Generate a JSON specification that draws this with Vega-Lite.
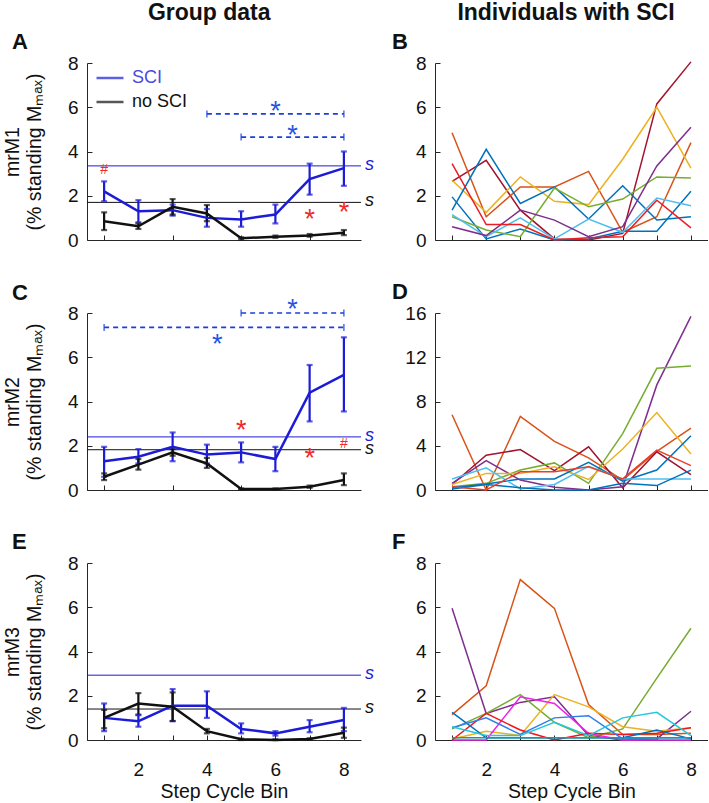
{
  "$schema": "https://vega.github.io/schema/vega-lite/v6.json",
  "padding": {"left": 2, "top": 2, "right": 0, "bottom": 0},
  "datasets": {
    "group": [
      {"panel":"A","series":"SCI","bin":1,"mean":2.2,"lo":1.75,"hi":2.65},
      {"panel":"A","series":"SCI","bin":2,"mean":1.3,"lo":0.8,"hi":1.8},
      {"panel":"A","series":"SCI","bin":3,"mean":1.35,"lo":1.1,"hi":1.6},
      {"panel":"A","series":"SCI","bin":4,"mean":1.0,"lo":0.6,"hi":1.4},
      {"panel":"A","series":"SCI","bin":5,"mean":0.93,"lo":0.6,"hi":1.3},
      {"panel":"A","series":"SCI","bin":6,"mean":1.15,"lo":0.75,"hi":1.6},
      {"panel":"A","series":"SCI","bin":7,"mean":2.75,"lo":2.05,"hi":3.45},
      {"panel":"A","series":"SCI","bin":8,"mean":3.25,"lo":2.45,"hi":4.0},
      {"panel":"A","series":"no SCI","bin":1,"mean":0.85,"lo":0.45,"hi":1.25},
      {"panel":"A","series":"no SCI","bin":2,"mean":0.62,"lo":0.5,"hi":0.75},
      {"panel":"A","series":"no SCI","bin":3,"mean":1.5,"lo":1.15,"hi":1.85},
      {"panel":"A","series":"no SCI","bin":4,"mean":1.2,"lo":0.85,"hi":1.58},
      {"panel":"A","series":"no SCI","bin":5,"mean":0.08,"lo":0.03,"hi":0.12},
      {"panel":"A","series":"no SCI","bin":6,"mean":0.15,"lo":0.1,"hi":0.2},
      {"panel":"A","series":"no SCI","bin":7,"mean":0.2,"lo":0.15,"hi":0.27},
      {"panel":"A","series":"no SCI","bin":8,"mean":0.33,"lo":0.22,"hi":0.45},
      {"panel":"C","series":"SCI","bin":1,"mean":1.3,"lo":0.6,"hi":1.95},
      {"panel":"C","series":"SCI","bin":2,"mean":1.5,"lo":1.2,"hi":1.85},
      {"panel":"C","series":"SCI","bin":3,"mean":1.95,"lo":1.3,"hi":2.6},
      {"panel":"C","series":"SCI","bin":4,"mean":1.6,"lo":1.2,"hi":2.05},
      {"panel":"C","series":"SCI","bin":5,"mean":1.7,"lo":1.25,"hi":2.15},
      {"panel":"C","series":"SCI","bin":6,"mean":1.4,"lo":0.85,"hi":1.95},
      {"panel":"C","series":"SCI","bin":7,"mean":4.4,"lo":3.1,"hi":5.65},
      {"panel":"C","series":"SCI","bin":8,"mean":5.2,"lo":3.55,"hi":6.9},
      {"panel":"C","series":"no SCI","bin":1,"mean":0.6,"lo":0.45,"hi":0.75},
      {"panel":"C","series":"no SCI","bin":2,"mean":1.15,"lo":0.92,"hi":1.4},
      {"panel":"C","series":"no SCI","bin":3,"mean":1.7,"lo":1.55,"hi":1.85},
      {"panel":"C","series":"no SCI","bin":4,"mean":1.2,"lo":1.0,"hi":1.45},
      {"panel":"C","series":"no SCI","bin":5,"mean":0.05,"lo":0.03,"hi":0.07},
      {"panel":"C","series":"no SCI","bin":6,"mean":0.05,"lo":0.03,"hi":0.07},
      {"panel":"C","series":"no SCI","bin":7,"mean":0.15,"lo":0.1,"hi":0.2},
      {"panel":"C","series":"no SCI","bin":8,"mean":0.45,"lo":0.22,"hi":0.75},
      {"panel":"E","series":"SCI","bin":1,"mean":1.0,"lo":0.4,"hi":1.65},
      {"panel":"E","series":"SCI","bin":2,"mean":0.85,"lo":0.6,"hi":1.12},
      {"panel":"E","series":"SCI","bin":3,"mean":1.55,"lo":0.85,"hi":2.3},
      {"panel":"E","series":"SCI","bin":4,"mean":1.55,"lo":1.0,"hi":2.2},
      {"panel":"E","series":"SCI","bin":5,"mean":0.5,"lo":0.3,"hi":0.75},
      {"panel":"E","series":"SCI","bin":6,"mean":0.3,"lo":0.2,"hi":0.4},
      {"panel":"E","series":"SCI","bin":7,"mean":0.6,"lo":0.35,"hi":0.9},
      {"panel":"E","series":"SCI","bin":8,"mean":0.9,"lo":0.4,"hi":1.45},
      {"panel":"E","series":"no SCI","bin":1,"mean":1.0,"lo":0.53,"hi":1.36},
      {"panel":"E","series":"no SCI","bin":2,"mean":1.65,"lo":1.15,"hi":2.12},
      {"panel":"E","series":"no SCI","bin":3,"mean":1.5,"lo":0.86,"hi":2.15},
      {"panel":"E","series":"no SCI","bin":4,"mean":0.4,"lo":0.3,"hi":0.5},
      {"panel":"E","series":"no SCI","bin":5,"mean":0.03,"lo":0.0,"hi":0.06},
      {"panel":"E","series":"no SCI","bin":6,"mean":0.0,"lo":0.0,"hi":0.03},
      {"panel":"E","series":"no SCI","bin":7,"mean":0.05,"lo":0.02,"hi":0.08},
      {"panel":"E","series":"no SCI","bin":8,"mean":0.33,"lo":0.1,"hi":0.56}
    ],
    "hlines": [
      {"panel":"A","series":"SCI","value":3.35},
      {"panel":"A","series":"no SCI","value":1.7},
      {"panel":"C","series":"SCI","value":2.4},
      {"panel":"C","series":"no SCI","value":1.82},
      {"panel":"E","series":"SCI","value":2.93},
      {"panel":"E","series":"no SCI","value":1.4}
    ],
    "brackets": [
      {"panel":"A","from":4,"to":8,"y":5.7},
      {"panel":"A","from":5,"to":8,"y":4.65},
      {"panel":"C","from":5,"to":8,"y":8.0},
      {"panel":"C","from":1,"to":8,"y":7.35}
    ],
    "notes": [
      {"panel":"A","kind":"within","label":"*","bin":6,"y":6.1},
      {"panel":"A","kind":"within","label":"*","bin":6.5,"y":5.0},
      {"panel":"A","kind":"between","label":"*","bin":7,"y":1.2},
      {"panel":"A","kind":"between","label":"*","bin":8,"y":1.55},
      {"panel":"A","kind":"between","label":"#","bin":1,"y":3.15},
      {"panel":"C","kind":"within","label":"*","bin":6.5,"y":8.45},
      {"panel":"C","kind":"within","label":"*","bin":4.3,"y":6.85},
      {"panel":"C","kind":"between","label":"*","bin":5,"y":3.0},
      {"panel":"C","kind":"between","label":"*","bin":7,"y":1.73},
      {"panel":"C","kind":"between","label":"#","bin":8,"y":2.1}
    ],
    "indiv": [
      {"panel":"B","subject":"b1","bin":1,"value":2.65},{"panel":"B","subject":"b1","bin":2,"value":3.6},{"panel":"B","subject":"b1","bin":3,"value":1.35},{"panel":"B","subject":"b1","bin":4,"value":0.05},{"panel":"B","subject":"b1","bin":5,"value":0.0},{"panel":"B","subject":"b1","bin":6,"value":0.3},{"panel":"B","subject":"b1","bin":7,"value":6.15},{"panel":"B","subject":"b1","bin":8,"value":8.05},
      {"panel":"B","subject":"b2","bin":1,"value":4.85},{"panel":"B","subject":"b2","bin":2,"value":1.05},{"panel":"B","subject":"b2","bin":3,"value":2.4},{"panel":"B","subject":"b2","bin":4,"value":2.4},{"panel":"B","subject":"b2","bin":5,"value":3.1},{"panel":"B","subject":"b2","bin":6,"value":0.35},{"panel":"B","subject":"b2","bin":7,"value":1.05},{"panel":"B","subject":"b2","bin":8,"value":4.4},
      {"panel":"B","subject":"b3","bin":1,"value":2.7},{"panel":"B","subject":"b3","bin":2,"value":1.25},{"panel":"B","subject":"b3","bin":3,"value":2.85},{"panel":"B","subject":"b3","bin":4,"value":1.75},{"panel":"B","subject":"b3","bin":5,"value":1.6},{"panel":"B","subject":"b3","bin":6,"value":3.65},{"panel":"B","subject":"b3","bin":7,"value":6.0},{"panel":"B","subject":"b3","bin":8,"value":3.25},
      {"panel":"B","subject":"b4","bin":1,"value":1.35},{"panel":"B","subject":"b4","bin":2,"value":4.1},{"panel":"B","subject":"b4","bin":3,"value":1.65},{"panel":"B","subject":"b4","bin":4,"value":2.4},{"panel":"B","subject":"b4","bin":5,"value":0.95},{"panel":"B","subject":"b4","bin":6,"value":2.45},{"panel":"B","subject":"b4","bin":7,"value":0.9},{"panel":"B","subject":"b4","bin":8,"value":1.05},
      {"panel":"B","subject":"b5","bin":1,"value":1.95},{"panel":"B","subject":"b5","bin":2,"value":0.05},{"panel":"B","subject":"b5","bin":3,"value":0.5},{"panel":"B","subject":"b5","bin":4,"value":0.0},{"panel":"B","subject":"b5","bin":5,"value":0.05},{"panel":"B","subject":"b5","bin":6,"value":0.4},{"panel":"B","subject":"b5","bin":7,"value":0.4},{"panel":"B","subject":"b5","bin":8,"value":2.2},
      {"panel":"B","subject":"b6","bin":1,"value":1.05},{"panel":"B","subject":"b6","bin":2,"value":0.45},{"panel":"B","subject":"b6","bin":3,"value":0.15},{"panel":"B","subject":"b6","bin":4,"value":2.35},{"panel":"B","subject":"b6","bin":5,"value":1.5},{"panel":"B","subject":"b6","bin":6,"value":1.85},{"panel":"B","subject":"b6","bin":7,"value":2.85},{"panel":"B","subject":"b6","bin":8,"value":2.8},
      {"panel":"B","subject":"b7","bin":1,"value":1.15},{"panel":"B","subject":"b7","bin":2,"value":0.15},{"panel":"B","subject":"b7","bin":3,"value":1.0},{"panel":"B","subject":"b7","bin":4,"value":0.05},{"panel":"B","subject":"b7","bin":5,"value":0.95},{"panel":"B","subject":"b7","bin":6,"value":0.35},{"panel":"B","subject":"b7","bin":7,"value":1.9},{"panel":"B","subject":"b7","bin":8,"value":1.55},
      {"panel":"B","subject":"b8","bin":1,"value":0.6},{"panel":"B","subject":"b8","bin":2,"value":0.2},{"panel":"B","subject":"b8","bin":3,"value":1.35},{"panel":"B","subject":"b8","bin":4,"value":0.9},{"panel":"B","subject":"b8","bin":5,"value":0.15},{"panel":"B","subject":"b8","bin":6,"value":0.6},{"panel":"B","subject":"b8","bin":7,"value":3.35},{"panel":"B","subject":"b8","bin":8,"value":5.1},
      {"panel":"B","subject":"b9","bin":1,"value":3.45},{"panel":"B","subject":"b9","bin":2,"value":0.7},{"panel":"B","subject":"b9","bin":3,"value":0.7},{"panel":"B","subject":"b9","bin":4,"value":0.0},{"panel":"B","subject":"b9","bin":5,"value":0.1},{"panel":"B","subject":"b9","bin":6,"value":0.15},{"panel":"B","subject":"b9","bin":7,"value":1.8},{"panel":"B","subject":"b9","bin":8,"value":0.55},
      {"panel":"D","subject":"d1","bin":1,"value":6.8},{"panel":"D","subject":"d1","bin":2,"value":0.0},{"panel":"D","subject":"d1","bin":3,"value":6.65},{"panel":"D","subject":"d1","bin":4,"value":4.4},{"panel":"D","subject":"d1","bin":5,"value":2.9},{"panel":"D","subject":"d1","bin":6,"value":0.9},{"panel":"D","subject":"d1","bin":7,"value":3.5},{"panel":"D","subject":"d1","bin":8,"value":5.6},
      {"panel":"D","subject":"d2","bin":1,"value":0.5},{"panel":"D","subject":"d2","bin":2,"value":3.15},{"panel":"D","subject":"d2","bin":3,"value":3.65},{"panel":"D","subject":"d2","bin":4,"value":1.75},{"panel":"D","subject":"d2","bin":5,"value":3.9},{"panel":"D","subject":"d2","bin":6,"value":0.2},{"panel":"D","subject":"d2","bin":7,"value":3.45},{"panel":"D","subject":"d2","bin":8,"value":1.4},
      {"panel":"D","subject":"d3","bin":1,"value":0.6},{"panel":"D","subject":"d3","bin":2,"value":2.65},{"panel":"D","subject":"d3","bin":3,"value":0.9},{"panel":"D","subject":"d3","bin":4,"value":0.25},{"panel":"D","subject":"d3","bin":5,"value":0.0},{"panel":"D","subject":"d3","bin":6,"value":0.3},{"panel":"D","subject":"d3","bin":7,"value":9.5},{"panel":"D","subject":"d3","bin":8,"value":15.7},
      {"panel":"D","subject":"d4","bin":1,"value":0.3},{"panel":"D","subject":"d4","bin":2,"value":0.6},{"panel":"D","subject":"d4","bin":3,"value":1.8},{"panel":"D","subject":"d4","bin":4,"value":2.45},{"panel":"D","subject":"d4","bin":5,"value":0.6},{"panel":"D","subject":"d4","bin":6,"value":5.1},{"panel":"D","subject":"d4","bin":7,"value":11.0},{"panel":"D","subject":"d4","bin":8,"value":11.2},
      {"panel":"D","subject":"d5","bin":1,"value":0.5},{"panel":"D","subject":"d5","bin":2,"value":1.5},{"panel":"D","subject":"d5","bin":3,"value":1.5},{"panel":"D","subject":"d5","bin":4,"value":2.1},{"panel":"D","subject":"d5","bin":5,"value":0.95},{"panel":"D","subject":"d5","bin":6,"value":3.7},{"panel":"D","subject":"d5","bin":7,"value":7.0},{"panel":"D","subject":"d5","bin":8,"value":3.25},
      {"panel":"D","subject":"d6","bin":1,"value":0.2},{"panel":"D","subject":"d6","bin":2,"value":0.55},{"panel":"D","subject":"d6","bin":3,"value":1.0},{"panel":"D","subject":"d6","bin":4,"value":1.0},{"panel":"D","subject":"d6","bin":5,"value":2.5},{"panel":"D","subject":"d6","bin":6,"value":0.8},{"panel":"D","subject":"d6","bin":7,"value":1.8},{"panel":"D","subject":"d6","bin":8,"value":4.9},
      {"panel":"D","subject":"d7","bin":1,"value":1.0},{"panel":"D","subject":"d7","bin":2,"value":2.0},{"panel":"D","subject":"d7","bin":3,"value":0.1},{"panel":"D","subject":"d7","bin":4,"value":0.5},{"panel":"D","subject":"d7","bin":5,"value":2.15},{"panel":"D","subject":"d7","bin":6,"value":1.0},{"panel":"D","subject":"d7","bin":7,"value":1.0},{"panel":"D","subject":"d7","bin":8,"value":1.0},
      {"panel":"D","subject":"d8","bin":1,"value":0.1},{"panel":"D","subject":"d8","bin":2,"value":0.5},{"panel":"D","subject":"d8","bin":3,"value":0.2},{"panel":"D","subject":"d8","bin":4,"value":0.0},{"panel":"D","subject":"d8","bin":5,"value":0.0},{"panel":"D","subject":"d8","bin":6,"value":0.6},{"panel":"D","subject":"d8","bin":7,"value":0.4},{"panel":"D","subject":"d8","bin":8,"value":1.8},
      {"panel":"D","subject":"d9","bin":1,"value":0.3},{"panel":"D","subject":"d9","bin":2,"value":0.0},{"panel":"D","subject":"d9","bin":3,"value":1.65},{"panel":"D","subject":"d9","bin":4,"value":1.65},{"panel":"D","subject":"d9","bin":5,"value":2.1},{"panel":"D","subject":"d9","bin":6,"value":1.0},{"panel":"D","subject":"d9","bin":7,"value":3.6},{"panel":"D","subject":"d9","bin":8,"value":2.2},
      {"panel":"F","subject":"f1","bin":1,"value":1.15},{"panel":"F","subject":"f1","bin":2,"value":2.45},{"panel":"F","subject":"f1","bin":3,"value":7.25},{"panel":"F","subject":"f1","bin":4,"value":5.95},{"panel":"F","subject":"f1","bin":5,"value":1.6},{"panel":"F","subject":"f1","bin":6,"value":0.25},{"panel":"F","subject":"f1","bin":7,"value":0.25},{"panel":"F","subject":"f1","bin":8,"value":0.3},
      {"panel":"F","subject":"f2","bin":1,"value":5.95},{"panel":"F","subject":"f2","bin":2,"value":1.2},{"panel":"F","subject":"f2","bin":3,"value":1.7},{"panel":"F","subject":"f2","bin":4,"value":1.95},{"panel":"F","subject":"f2","bin":5,"value":0.2},{"panel":"F","subject":"f2","bin":6,"value":0.0},{"panel":"F","subject":"f2","bin":7,"value":0.05},{"panel":"F","subject":"f2","bin":8,"value":1.3},
      {"panel":"F","subject":"f3","bin":1,"value":0.5},{"panel":"F","subject":"f3","bin":2,"value":1.2},{"panel":"F","subject":"f3","bin":3,"value":2.05},{"panel":"F","subject":"f3","bin":4,"value":0.8},{"panel":"F","subject":"f3","bin":5,"value":0.1},{"panel":"F","subject":"f3","bin":6,"value":0.5},{"panel":"F","subject":"f3","bin":7,"value":2.8},{"panel":"F","subject":"f3","bin":8,"value":5.05},
      {"panel":"F","subject":"f4","bin":1,"value":0.05},{"panel":"F","subject":"f4","bin":2,"value":0.4},{"panel":"F","subject":"f4","bin":3,"value":0.2},{"panel":"F","subject":"f4","bin":4,"value":2.05},{"panel":"F","subject":"f4","bin":5,"value":1.5},{"panel":"F","subject":"f4","bin":6,"value":0.6},{"panel":"F","subject":"f4","bin":7,"value":0.4},{"panel":"F","subject":"f4","bin":8,"value":0.55},
      {"panel":"F","subject":"f5","bin":1,"value":0.0},{"panel":"F","subject":"f5","bin":2,"value":0.0},{"panel":"F","subject":"f5","bin":3,"value":1.95},{"panel":"F","subject":"f5","bin":4,"value":1.65},{"panel":"F","subject":"f5","bin":5,"value":0.3},{"panel":"F","subject":"f5","bin":6,"value":0.0},{"panel":"F","subject":"f5","bin":7,"value":0.0},{"panel":"F","subject":"f5","bin":8,"value":0.0},
      {"panel":"F","subject":"f6","bin":1,"value":0.0},{"panel":"F","subject":"f6","bin":2,"value":1.2},{"panel":"F","subject":"f6","bin":3,"value":0.45},{"panel":"F","subject":"f6","bin":4,"value":0.0},{"panel":"F","subject":"f6","bin":5,"value":0.3},{"panel":"F","subject":"f6","bin":6,"value":0.25},{"panel":"F","subject":"f6","bin":7,"value":0.3},{"panel":"F","subject":"f6","bin":8,"value":0.55},
      {"panel":"F","subject":"f7","bin":1,"value":1.25},{"panel":"F","subject":"f7","bin":2,"value":0.1},{"panel":"F","subject":"f7","bin":3,"value":0.1},{"panel":"F","subject":"f7","bin":4,"value":0.1},{"panel":"F","subject":"f7","bin":5,"value":0.1},{"panel":"F","subject":"f7","bin":6,"value":0.1},{"panel":"F","subject":"f7","bin":7,"value":0.45},{"panel":"F","subject":"f7","bin":8,"value":0.05},
      {"panel":"F","subject":"f8","bin":1,"value":0.55},{"panel":"F","subject":"f8","bin":2,"value":1.0},{"panel":"F","subject":"f8","bin":3,"value":0.25},{"panel":"F","subject":"f8","bin":4,"value":1.0},{"panel":"F","subject":"f8","bin":5,"value":1.1},{"panel":"F","subject":"f8","bin":6,"value":0.05},{"panel":"F","subject":"f8","bin":7,"value":0.1},{"panel":"F","subject":"f8","bin":8,"value":0.1},
      {"panel":"F","subject":"f9","bin":1,"value":0.6},{"panel":"F","subject":"f9","bin":2,"value":0.2},{"panel":"F","subject":"f9","bin":3,"value":0.2},{"panel":"F","subject":"f9","bin":4,"value":0.8},{"panel":"F","subject":"f9","bin":5,"value":0.2},{"panel":"F","subject":"f9","bin":6,"value":1.0},{"panel":"F","subject":"f9","bin":7,"value":1.25},{"panel":"F","subject":"f9","bin":8,"value":0.2},
      {"panel":"F","subject":"f10","bin":1,"value":0.1},{"panel":"F","subject":"f10","bin":2,"value":0.1},{"panel":"F","subject":"f10","bin":3,"value":0.1},{"panel":"F","subject":"f10","bin":4,"value":0.1},{"panel":"F","subject":"f10","bin":5,"value":0.1},{"panel":"F","subject":"f10","bin":6,"value":0.1},{"panel":"F","subject":"f10","bin":7,"value":0.1},{"panel":"F","subject":"f10","bin":8,"value":0.1}
    ]
  },
  "hconcat": [
    {
      "title": {"text": "Group data", "fontSize": 23, "anchor": "middle", "offset": 6, "dx": 21},
      "spacing": 73,
      "bounds": "flush",
      "resolve": {"scale": {"color": "independent", "fill": "independent"}, "legend": {"color": "independent"}},
      "vconcat": [
        {
          "width": 274, "height": 177,
          "title": {"text": "A", "anchor": "start", "frame": "group", "dx": -75, "offset": 0},
          "layer": [
            {"data": {"name": "hlines"}, "transform": [{"filter": "datum.panel == 'A'"}],
             "mark": {"type": "rule", "strokeWidth": 1},
             "encoding": {
               "y": {"field": "value", "type": "quantitative", "scale": {"domain": [0, 8], "nice": false}, "axis": {"values": [0, 2, 4, 6, 8], "title": ["mrM1", "(% standing Mₘₐₓ)"], "titlePadding": 23}},
               "color": {"field": "series", "type": "nominal", "scale": {"domain": ["SCI", "no SCI"], "range": ["#1c1cd8", "#111111"]}}}},
            {"data": {"name": "group"}, "transform": [{"filter": "datum.panel == 'A'"}],
             "mark": {"type": "rule", "strokeWidth": 2.2},
             "encoding": {
               "x": {"field": "bin", "type": "quantitative", "scale": {"domain": [0.5, 8.5], "nice": false}, "axis": {"values": [1, 2, 3, 4, 5, 6, 7, 8], "labels": false, "title": null}},
               "y": {"field": "lo", "type": "quantitative"}, "y2": {"field": "hi"},
               "color": {"field": "series", "type": "nominal"}}},
            {"data": {"name": "group"}, "transform": [{"filter": "datum.panel == 'A'"}],
             "mark": {"type": "tick", "orient": "horizontal", "size": 6, "thickness": 2.2},
             "encoding": {"x": {"field": "bin", "type": "quantitative"}, "y": {"field": "lo", "type": "quantitative"}, "color": {"field": "series", "type": "nominal"}}},
            {"data": {"name": "group"}, "transform": [{"filter": "datum.panel == 'A'"}],
             "mark": {"type": "tick", "orient": "horizontal", "size": 6, "thickness": 2.2},
             "encoding": {"x": {"field": "bin", "type": "quantitative"}, "y": {"field": "hi", "type": "quantitative"}, "color": {"field": "series", "type": "nominal"}}},
            {"data": {"name": "group"}, "transform": [{"filter": "datum.panel == 'A'"}],
             "mark": {"type": "line", "strokeWidth": 2.5},
             "encoding": {"x": {"field": "bin", "type": "quantitative"}, "y": {"field": "mean", "type": "quantitative"},
               "color": {"field": "series", "type": "nominal", "legend": {"orient": "none", "legendX": 8, "legendY": 0, "title": null, "symbolType": "stroke", "symbolSize": 729, "symbolStrokeWidth": 2.5, "labelFontSize": 18, "labelOffset": 7, "rowPadding": 0, "padding": 0, "labelColor": {"expr": "datum.label == 'SCI' ? '#4a4ae0' : '#111111'"}}}}},
            {"data": {"name": "hlines"}, "transform": [{"filter": "datum.panel == 'A'"}],
             "mark": {"type": "text", "align": "left", "baseline": "middle", "dx": 4, "dy": -1, "fontSize": 18, "fontStyle": "italic"},
             "encoding": {"x": {"value": "width"}, "y": {"field": "value", "type": "quantitative"}, "text": {"value": "s"}, "color": {"field": "series", "type": "nominal"}}},
            {"data": {"name": "brackets"}, "transform": [{"filter": "datum.panel == 'A'"}],
             "mark": {"type": "rule", "strokeWidth": 1.6, "strokeDash": [5, 4], "color": "#1a3fdc"},
             "encoding": {"x": {"field": "from", "type": "quantitative"}, "x2": {"field": "to"}, "y": {"field": "y", "type": "quantitative"}}},
            {"data": {"name": "brackets"}, "transform": [{"filter": "datum.panel == 'A'"}, {"fold": ["from", "to"], "as": ["end", "xpos"]}],
             "mark": {"type": "tick", "orient": "vertical", "size": 7, "thickness": 1.6, "color": "#1a3fdc"},
             "encoding": {"x": {"field": "xpos", "type": "quantitative"}, "y": {"field": "y", "type": "quantitative"}}},
            {"data": {"name": "notes"}, "transform": [{"filter": "datum.panel == 'A' && datum.label == '*'"}],
             "mark": {"type": "text", "fontSize": 27, "align": "center", "baseline": "middle", "dy": 7},
             "encoding": {"x": {"field": "bin", "type": "quantitative"}, "y": {"field": "y", "type": "quantitative"}, "text": {"field": "label"},
               "fill": {"field": "kind", "type": "nominal", "scale": {"domain": ["within", "between"], "range": ["#1f55e3", "#ee2a2a"]}, "legend": null}}},
            {"data": {"name": "notes"}, "transform": [{"filter": "datum.panel == 'A' && datum.label == '#'"}],
             "mark": {"type": "text", "fontSize": 14, "align": "center", "baseline": "middle"},
             "encoding": {"x": {"field": "bin", "type": "quantitative"}, "y": {"field": "y", "type": "quantitative"}, "text": {"field": "label"},
               "fill": {"field": "kind", "type": "nominal", "legend": null}}}
          ]
        },
        {
          "width": 274, "height": 177,
          "title": {"text": "C", "anchor": "start", "frame": "group", "dx": -75, "offset": -9},
          "layer": [
            {"data": {"name": "hlines"}, "transform": [{"filter": "datum.panel == 'C'"}],
             "mark": {"type": "rule", "strokeWidth": 1},
             "encoding": {
               "y": {"field": "value", "type": "quantitative", "scale": {"domain": [0, 8], "nice": false}, "axis": {"values": [0, 2, 4, 6, 8], "title": ["mrM2", "(% standing Mₘₐₓ)"], "titlePadding": 23}},
               "color": {"field": "series", "type": "nominal", "scale": {"domain": ["SCI", "no SCI"], "range": ["#1c1cd8", "#111111"]}, "legend": null}}},
            {"data": {"name": "group"}, "transform": [{"filter": "datum.panel == 'C'"}],
             "mark": {"type": "rule", "strokeWidth": 2.2},
             "encoding": {
               "x": {"field": "bin", "type": "quantitative", "scale": {"domain": [0.5, 8.5], "nice": false}, "axis": {"values": [1, 2, 3, 4, 5, 6, 7, 8], "labels": false, "title": null}},
               "y": {"field": "lo", "type": "quantitative"}, "y2": {"field": "hi"},
               "color": {"field": "series", "type": "nominal", "legend": null}}},
            {"data": {"name": "group"}, "transform": [{"filter": "datum.panel == 'C'"}],
             "mark": {"type": "tick", "orient": "horizontal", "size": 6, "thickness": 2.2},
             "encoding": {"x": {"field": "bin", "type": "quantitative"}, "y": {"field": "lo", "type": "quantitative"}, "color": {"field": "series", "type": "nominal", "legend": null}}},
            {"data": {"name": "group"}, "transform": [{"filter": "datum.panel == 'C'"}],
             "mark": {"type": "tick", "orient": "horizontal", "size": 6, "thickness": 2.2},
             "encoding": {"x": {"field": "bin", "type": "quantitative"}, "y": {"field": "hi", "type": "quantitative"}, "color": {"field": "series", "type": "nominal", "legend": null}}},
            {"data": {"name": "group"}, "transform": [{"filter": "datum.panel == 'C'"}],
             "mark": {"type": "line", "strokeWidth": 2.5},
             "encoding": {"x": {"field": "bin", "type": "quantitative"}, "y": {"field": "mean", "type": "quantitative"}, "color": {"field": "series", "type": "nominal", "legend": null}}},
            {"data": {"name": "hlines"}, "transform": [{"filter": "datum.panel == 'C'"}],
             "mark": {"type": "text", "align": "left", "baseline": "middle", "dx": 4, "dy": -1, "fontSize": 18, "fontStyle": "italic"},
             "encoding": {"x": {"value": "width"}, "y": {"field": "value", "type": "quantitative"}, "text": {"value": "s"}, "color": {"field": "series", "type": "nominal", "legend": null}}},
            {"data": {"name": "brackets"}, "transform": [{"filter": "datum.panel == 'C'"}],
             "mark": {"type": "rule", "strokeWidth": 1.6, "strokeDash": [5, 4], "color": "#1a3fdc"},
             "encoding": {"x": {"field": "from", "type": "quantitative"}, "x2": {"field": "to"}, "y": {"field": "y", "type": "quantitative"}}},
            {"data": {"name": "brackets"}, "transform": [{"filter": "datum.panel == 'C'"}, {"fold": ["from", "to"], "as": ["end", "xpos"]}],
             "mark": {"type": "tick", "orient": "vertical", "size": 7, "thickness": 1.6, "color": "#1a3fdc"},
             "encoding": {"x": {"field": "xpos", "type": "quantitative"}, "y": {"field": "y", "type": "quantitative"}}},
            {"data": {"name": "notes"}, "transform": [{"filter": "datum.panel == 'C' && datum.label == '*'"}],
             "mark": {"type": "text", "fontSize": 27, "align": "center", "baseline": "middle", "dy": 7},
             "encoding": {"x": {"field": "bin", "type": "quantitative"}, "y": {"field": "y", "type": "quantitative"}, "text": {"field": "label"},
               "fill": {"field": "kind", "type": "nominal", "scale": {"domain": ["within", "between"], "range": ["#1f55e3", "#ee2a2a"]}, "legend": null}}},
            {"data": {"name": "notes"}, "transform": [{"filter": "datum.panel == 'C' && datum.label == '#'"}],
             "mark": {"type": "text", "fontSize": 14, "align": "center", "baseline": "middle"},
             "encoding": {"x": {"field": "bin", "type": "quantitative"}, "y": {"field": "y", "type": "quantitative"}, "text": {"field": "label"},
               "fill": {"field": "kind", "type": "nominal", "legend": null}}}
          ]
        },
        {
          "width": 274, "height": 177,
          "title": {"text": "E", "anchor": "start", "frame": "group", "dx": -75, "offset": 0},
          "layer": [
            {"data": {"name": "hlines"}, "transform": [{"filter": "datum.panel == 'E'"}],
             "mark": {"type": "rule", "strokeWidth": 1},
             "encoding": {
               "y": {"field": "value", "type": "quantitative", "scale": {"domain": [0, 8], "nice": false}, "axis": {"values": [0, 2, 4, 6, 8], "title": ["mrM3", "(% standing Mₘₐₓ)"], "titlePadding": 23}},
               "color": {"field": "series", "type": "nominal", "scale": {"domain": ["SCI", "no SCI"], "range": ["#1c1cd8", "#111111"]}, "legend": null}}},
            {"data": {"name": "group"}, "transform": [{"filter": "datum.panel == 'E'"}],
             "mark": {"type": "rule", "strokeWidth": 2.2},
             "encoding": {
               "x": {"field": "bin", "type": "quantitative", "scale": {"domain": [0.5, 8.5], "nice": false}, "axis": {"values": [1, 2, 3, 4, 5, 6, 7, 8], "labelExpr": "datum.value % 2 == 0 ? datum.label : ''", "title": "Step Cycle Bin", "labelPadding": 25, "titlePadding": 3}},
               "y": {"field": "lo", "type": "quantitative"}, "y2": {"field": "hi"},
               "color": {"field": "series", "type": "nominal", "legend": null}}},
            {"data": {"name": "group"}, "transform": [{"filter": "datum.panel == 'E'"}],
             "mark": {"type": "tick", "orient": "horizontal", "size": 6, "thickness": 2.2},
             "encoding": {"x": {"field": "bin", "type": "quantitative", "axis": {"values": [1, 2, 3, 4, 5, 6, 7, 8], "labelExpr": "datum.value % 2 == 0 ? datum.label : ''", "title": "Step Cycle Bin", "labelPadding": 25, "titlePadding": 3}}, "y": {"field": "lo", "type": "quantitative"}, "color": {"field": "series", "type": "nominal", "legend": null}}},
            {"data": {"name": "group"}, "transform": [{"filter": "datum.panel == 'E'"}],
             "mark": {"type": "tick", "orient": "horizontal", "size": 6, "thickness": 2.2},
             "encoding": {"x": {"field": "bin", "type": "quantitative", "axis": {"values": [1, 2, 3, 4, 5, 6, 7, 8], "labelExpr": "datum.value % 2 == 0 ? datum.label : ''", "title": "Step Cycle Bin", "labelPadding": 25, "titlePadding": 3}}, "y": {"field": "hi", "type": "quantitative"}, "color": {"field": "series", "type": "nominal", "legend": null}}},
            {"data": {"name": "group"}, "transform": [{"filter": "datum.panel == 'E'"}],
             "mark": {"type": "line", "strokeWidth": 2.5},
             "encoding": {"x": {"field": "bin", "type": "quantitative", "axis": {"values": [1, 2, 3, 4, 5, 6, 7, 8], "labelExpr": "datum.value % 2 == 0 ? datum.label : ''", "title": "Step Cycle Bin", "labelPadding": 25, "titlePadding": 3}}, "y": {"field": "mean", "type": "quantitative"}, "color": {"field": "series", "type": "nominal", "legend": null}}},
            {"data": {"name": "hlines"}, "transform": [{"filter": "datum.panel == 'E'"}],
             "mark": {"type": "text", "align": "left", "baseline": "middle", "dx": 4, "dy": -1, "fontSize": 18, "fontStyle": "italic"},
             "encoding": {"x": {"value": "width"}, "y": {"field": "value", "type": "quantitative"}, "text": {"value": "s"}, "color": {"field": "series", "type": "nominal", "legend": null}}}
          ]
        }
      ]
    },
    {
      "title": {"text": "Individuals with SCI", "fontSize": 23, "anchor": "middle", "offset": 6, "dx": 16},
      "spacing": 73,
      "bounds": "flush",
      "resolve": {"scale": {"color": "independent"}},
      "vconcat": [
        {
          "width": 273, "height": 177,
          "title": {"text": "B", "anchor": "start", "frame": "group", "dx": -43, "offset": 0},
          "data": {"name": "indiv"}, "transform": [{"filter": "datum.panel == 'B'"}],
          "mark": {"type": "line", "strokeWidth": 1.5},
          "encoding": {
            "x": {"field": "bin", "type": "quantitative", "scale": {"domain": [0.5, 8.5], "nice": false}, "axis": {"values": [1, 2, 3, 4, 5, 6, 7, 8], "labels": false, "title": null}},
            "y": {"field": "value", "type": "quantitative", "scale": {"domain": [0, 8], "nice": false}, "axis": {"values": [0, 2, 4, 6, 8], "title": null}},
            "color": {"field": "subject", "type": "nominal", "scale": {"domain": ["b1","b2","b3","b4","b5","b6","b7","b8","b9"], "range": ["#A2142F","#D95319","#EDB120","#0072BD","#0072BD","#77AC30","#4DBEEE","#7E2F8E","#EC1C24"]}, "legend": null}
          }
        },
        {
          "width": 273, "height": 177,
          "title": {"text": "D", "anchor": "start", "frame": "group", "dx": -43, "offset": 0},
          "data": {"name": "indiv"}, "transform": [{"filter": "datum.panel == 'D'"}],
          "mark": {"type": "line", "strokeWidth": 1.5},
          "encoding": {
            "x": {"field": "bin", "type": "quantitative", "scale": {"domain": [0.5, 8.5], "nice": false}, "axis": {"values": [1, 2, 3, 4, 5, 6, 7, 8], "labels": false, "title": null}},
            "y": {"field": "value", "type": "quantitative", "scale": {"domain": [0, 16], "nice": false}, "axis": {"values": [0, 4, 8, 12, 16], "title": null}},
            "color": {"field": "subject", "type": "nominal", "scale": {"domain": ["d1","d2","d3","d4","d5","d6","d7","d8","d9"], "range": ["#D95319","#A2142F","#7E2F8E","#77AC30","#EDB120","#0072BD","#4DBEEE","#0072BD","#E5412A"]}, "legend": null}
          }
        },
        {
          "width": 273, "height": 177,
          "title": {"text": "F", "anchor": "start", "frame": "group", "dx": -43, "offset": 0},
          "data": {"name": "indiv"}, "transform": [{"filter": "datum.panel == 'F'"}],
          "mark": {"type": "line", "strokeWidth": 1.5},
          "encoding": {
            "x": {"field": "bin", "type": "quantitative", "scale": {"domain": [0.5, 8.5], "nice": false}, "axis": {"values": [1, 2, 3, 4, 5, 6, 7, 8], "labelExpr": "datum.value % 2 == 0 ? datum.label : ''", "title": "Step Cycle Bin", "labelPadding": 25, "titlePadding": 3}},
            "y": {"field": "value", "type": "quantitative", "scale": {"domain": [0, 8], "nice": false}, "axis": {"values": [0, 2, 4, 6, 8], "title": null}},
            "color": {"field": "subject", "type": "nominal", "scale": {"domain": ["f1","f2","f3","f4","f5","f6","f7","f8","f9","f10"], "range": ["#D95319","#7E2F8E","#77AC30","#EDB120","#F01EF0","#F0141E","#0072BD","#2F7FE8","#22C8DC","#1A9A9A"]}, "legend": null}
          }
        }
      ]
    }
  ],
  "spacing": 18,
  "config": {
    "font": "Liberation Sans",
    "view": {"stroke": null},
    "axis": {"grid": false, "domainColor": "#262626", "domainWidth": 1, "tickColor": "#262626", "tickWidth": 1, "tickSize": -5, "labelFontSize": 19, "labelColor": "#111111", "labelPadding": 14, "titleFontSize": 19.5, "titleFontWeight": "normal", "titleColor": "#111111", "labelFont": "Liberation Sans", "titleFont": "Liberation Sans", "titleLineHeight": 22},
    "title": {"font": "Liberation Sans", "fontSize": 22, "fontWeight": "bold", "color": "#111111"},
    "legend": {"labelFont": "Liberation Sans"}
  }
}
